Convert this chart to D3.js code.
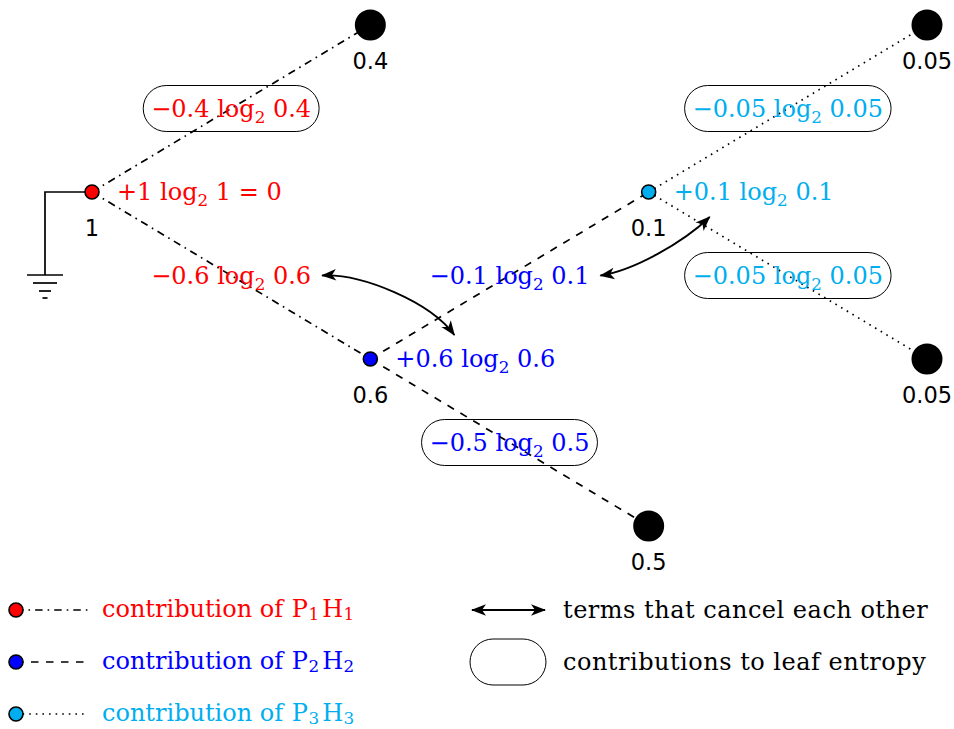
<!DOCTYPE html>
<html>
<head>
<meta charset="utf-8">
<script src="https://cdn.jsdelivr.net/npm/d3@7"></script>
<style>
  html, body { margin: 0; padding: 0; background: #fff; }
  svg { display: block; }
  text { white-space: pre; }
</style>
</head>
<body>
<svg id="chart" width="954" height="729"></svg>
<script>
// ---------------- data ----------------
const nodeProb   = [1, 0.4, 0.6, 0.1, 0.5, 0.05, 0.05];
const nodeParent = [-1, 0, 0, 2, 2, 3, 3];
const nodeRow    = [0, -1, 1, 0, 2, -1, 1];
const nodeSeries = [0, -1, 1, 2, -1, -1, -1];     // which P_iH_i an internal node contributes to
const seriesSub  = ["1", "2", "3"];
const seriesColor = ["#ff0000", "#0000ff", "#00aeef"];
const cancelNodes = [2, 3];                       // edge label into node  <->  node's own label
const legendRight = ["terms that cancel each other", "contributions to leaf entropy"];

// ---------------- setup ----------------
const svg = d3.select("#chart");
const serif = "'DejaVu Serif', serif";
const sans = "'DejaVu Sans', sans-serif";
const FS = 24;

const depth = nodeProb.map((_, i) => { let d = 0, p = nodeParent[i]; while (p >= 0) { d++; p = nodeParent[p]; } return d; });
const x = d3.scaleLinear().domain([0, 3]).range([92, 927]);
const y = d3.scaleLinear().domain([-1, 2]).range([25, 526]);
const nodes = nodeProb.map((p, i) => ({
  i, p, x: x(depth[i]), y: y(nodeRow[i]),
  leaf: !nodeParent.includes(i), series: nodeSeries[i]
}));

const dashes = ["7.5,5,1.6,5", "7.5,7.5", "1.6,5"];
const fmt = v => String(v);

// arrow marker
const defs = svg.append("defs");
defs.append("marker")
  .attr("id", "stealth").attr("viewBox", "-1 -7 18 14")
  .attr("markerUnits", "userSpaceOnUse").attr("markerWidth", 18).attr("markerHeight", 14)
  .attr("refX", 14).attr("refY", 0).attr("orient", "auto-start-reverse")
  .append("path").attr("d", "M0,-5.8 L15,0 L0,5.8 L4,0 Z").attr("fill", "#000");

// math text helper: parts = [[text, isSub, dx], ...]
function mathText(g, parts, xx, yy, color, anchor, subDy) {
  const sd = subDy || 6;
  const t = g.append("text").attr("x", xx).attr("y", yy)
    .attr("font-family", serif).attr("font-size", FS).attr("fill", color)
    .attr("text-anchor", anchor || "start");
  let sub = false;
  parts.forEach(([s, isSub, dx]) => {
    const ts = t.append("tspan").text(s);
    if (dx) ts.attr("dx", dx);
    if (isSub && !sub) { ts.attr("dy", sd).attr("font-size", FS * 0.7); sub = true; }
    else if (!isSub && sub) { ts.attr("dy", -sd); sub = false; }
  });
  return t;
}
const logParts = (sign, p, tail) => [[sign + fmt(p) + " log", false], ["2", true], [" " + fmt(p) + (tail || ""), false]];

// ---------------- ground ----------------
const root = nodes[0];
const gx = root.x - 47, gy = root.y + 83;
svg.append("path")
  .attr("d", `M${root.x},${root.y} H${gx} V${gy}`)
  .attr("fill", "none").attr("stroke", "#000").attr("stroke-width", 1.7);
[[18, 0], [12, 8], [6, 16], [2.5, 23]].forEach(([hw, dy]) => {
  svg.append("line").attr("x1", gx - hw).attr("x2", gx + hw).attr("y1", gy + dy).attr("y2", gy + dy)
    .attr("stroke", "#000").attr("stroke-width", 1.7);
});

// ---------------- edges ----------------
const edges = nodes.filter(n => nodeParent[n.i] >= 0).map(n => ({ child: n, parent: nodes[nodeParent[n.i]] }));
svg.append("g").selectAll("line").data(edges).join("line")
  .attr("x1", d => d.parent.x).attr("y1", d => d.parent.y)
  .attr("x2", d => d.child.x).attr("y2", d => d.child.y)
  .attr("stroke", "#000").attr("stroke-width", 1.7)
  .attr("stroke-dasharray", d => dashes[d.parent.series]);

// ---------------- nodes ----------------
const ng = svg.append("g");
ng.selectAll("circle").data(nodes).join("circle")
  .attr("cx", d => d.x).attr("cy", d => d.y)
  .attr("r", d => d.leaf ? 15.5 : 7)
  .attr("fill", d => d.leaf ? "#000" : seriesColor[d.series])
  .attr("stroke", "#000").attr("stroke-width", d => d.leaf ? 0 : 1.6);
ng.selectAll("text").data(nodes).join("text")
  .attr("x", d => d.x).attr("y", d => d.y + 44)
  .attr("text-anchor", "middle").attr("font-family", sans).attr("font-size", 22.5)
  .attr("fill", "#000").text(d => fmt(d.p));

// ---------------- labels ----------------
const lg = svg.append("g");
const edgeLabelBox = {};
edges.forEach(e => {
  const mx = (e.parent.x + e.child.x) / 2, my = (e.parent.y + e.child.y) / 2;
  const col = seriesColor[e.parent.series];
  const t = mathText(lg, logParts("\u2212", e.child.p), mx, my + 8.5, col, "middle");
  const bb = t.node().getBBox();
  edgeLabelBox[e.child.i] = { x: bb.x, y: bb.y, w: bb.width, h: bb.height, mx, my };
  if (e.child.leaf) {
    const w = bb.width + 16, h = 46;
    lg.insert("rect", "text").attr("x", mx - w / 2).attr("y", my - h / 2)
      .attr("width", w).attr("height", h).attr("rx", h / 2).attr("ry", h / 2)
      .attr("fill", "none").attr("stroke", "#000").attr("stroke-width", 1);
  }
});
nodes.filter(n => !n.leaf).forEach(n => {
  const col = seriesColor[n.series];
  mathText(lg, logParts("+", n.p, n.i === 0 ? " = 0" : ""), n.x + 25, n.y + 8, col, "start");
});

// ---------------- cancel arrows ----------------
const ag = svg.append("g");
cancelNodes.forEach((ni, k) => {
  const b = edgeLabelBox[ni], n = nodes[ni];
  const x0 = b.x + b.w + 11, y0 = b.my;
  let d;
  if (k === 0) {
    const x3 = n.x + 84, y3 = n.y - 24;
    d = `M${x0},${y0} C${x0 + 40},${y0 - 2} ${x3 - 24},${y3 - 33} ${x3},${y3}`;
  } else {
    const x3 = n.x + 61, y3 = n.y + 25;
    d = `M${x0},${y0} C${x0 + 33},${y0 - 5} ${x3 - 27},${y3 + 26} ${x3},${y3}`;
  }
  ag.append("path").attr("d", d).attr("fill", "none").attr("stroke", "#000").attr("stroke-width", 1.8)
    .attr("marker-start", "url(#stealth)").attr("marker-end", "url(#stealth)");
});

// ---------------- legend ----------------
const leg = svg.append("g");
const ly = d3.scaleLinear().domain([0, 1]).range([610, 662]);
seriesColor.forEach((c, k) => {
  const yy = ly(k);
  leg.append("line").attr("x1", 16).attr("x2", k === 2 ? 88 : 91).attr("y1", yy).attr("y2", yy)
    .attr("stroke", "#000").attr("stroke-width", 1.7).attr("stroke-dasharray", dashes[k]);
  leg.append("circle").attr("cx", 16).attr("cy", yy).attr("r", 7)
    .attr("fill", c).attr("stroke", "#000").attr("stroke-width", 1.6);
  mathText(leg, [["contribution of ", false], ["P", false, 1], [seriesSub[k], true, 0.5], ["H", false, 3], [seriesSub[k], true, 0.5]],
    102, yy + 6.5, c, "start", 3.5);
});
// right legend
leg.append("line").attr("x1", 472).attr("x2", 545).attr("y1", ly(0)).attr("y2", ly(0))
  .attr("stroke", "#000").attr("stroke-width", 1.8)
  .attr("marker-start", "url(#stealth)").attr("marker-end", "url(#stealth)");
leg.append("rect").attr("x", 470).attr("y", ly(1) - 23).attr("width", 76).attr("height", 46)
  .attr("rx", 23).attr("ry", 23).attr("fill", "none").attr("stroke", "#000").attr("stroke-width", 1);
legendRight.forEach((s, k) => {
  leg.append("text").attr("x", 563).attr("y", ly(k) + 7.5)
    .attr("font-family", serif).attr("font-size", FS).attr("fill", "#000")
    .attr("letter-spacing", 0.5).text(s);
});
</script>
</body>
</html>
